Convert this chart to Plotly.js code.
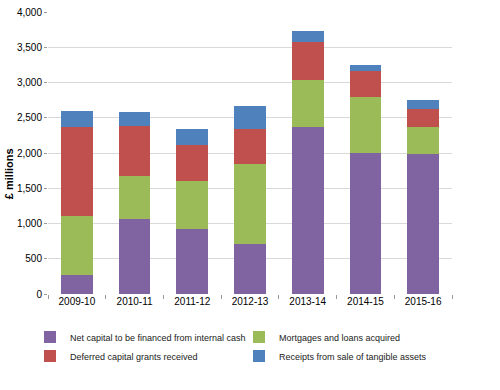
<!DOCTYPE html>
<html>
<head>
<meta charset="utf-8">
<script src="https://cdn.plot.ly/plotly-3.0.1.min.js"></script>
<style>html,body{margin:0;padding:0;background:#fff;}#chart{width:500px;height:390px;}</style>
</head>
<body>
<div id="chart"></div>
<script>
const categories = ["2009-10", "2010-11", "2011-12", "2012-13", "2013-14", "2014-15", "2015-16"];
const netCapital = [275, 1070, 925, 712, 2370, 2000, 1990];
const mortgages = [825, 610, 680, 1138, 665, 795, 380];
const deferredGrants = [1270, 700, 510, 491, 539, 368, 255];
const receiptsTangible = [226, 202, 226, 326, 156, 84, 127];
const seriesNames = [
  "Net capital to be financed from internal cash",
  "Mortgages and loans acquired",
  "Deferred capital grants received",
  "Receipts from sale of tangible assets"
];
const colors = ["#8064a2", "#9bbb59", "#c0504d", "#4f81bd"];
const legendGroups = ["legend", "legend2", "legend", "legend2"];
const yTicks = [0, 500, 1000, 1500, 2000, 2500, 3000, 3500, 4000];
const yTickText = ["0", "500", "1,000", "1,500", "2,000", "2,500", "3,000", "3,500", "4,000"];
const yTitle = "£ millions";

const seriesValues = [netCapital, mortgages, deferredGrants, receiptsTangible];
const traces = seriesValues.map((vals, i) => ({
  type: "bar",
  x: categories,
  y: vals,
  name: seriesNames[i],
  legend: legendGroups[i],
  marker: {color: colors[i], line: {width: 0}},
  hoverinfo: "x+y+name"
}));

const legendStyle = {
  orientation: "v",
  xref: "container",
  yref: "container",
  xanchor: "left",
  yanchor: "top",
  y: 0.173,
  itemwidth: 30,
  font: {size: 9, color: "#222222"},
  bgcolor: "rgba(0,0,0,0)",
  traceorder: "normal"
};

const layout = {
  width: 500,
  height: 390,
  barmode: "stack",
  bargap: 0.45,
  paper_bgcolor: "#ffffff",
  plot_bgcolor: "#ffffff",
  font: {family: "Liberation Sans, Arial, sans-serif", size: 10, color: "#000000"},
  margin: {l: 48, r: 48, t: 12, b: 96, autoexpand: false},
  showlegend: true,
  legend: Object.assign({}, legendStyle, {x: 0.06}),
  legend2: Object.assign({}, legendStyle, {x: 0.478}),
  xaxis: {
    type: "category",
    showgrid: false,
    showline: false,
    zeroline: false,
    ticks: "outside",
    tickson: "boundaries",
    ticklen: 4,
    tickcolor: "#999999",
    tickfont: {size: 10}
  },
  yaxis: {
    range: [0, 4000],
    tickvals: yTicks,
    ticktext: yTickText,
    showgrid: true,
    gridcolor: "#d9d9d9",
    gridwidth: 1,
    zeroline: false,
    showline: false,
    ticks: "outside",
    ticklen: 3,
    tickcolor: "#999999",
    tickfont: {size: 10}
  },
  annotations: [{
    text: "<b>" + yTitle + "</b>",
    xref: "paper", yref: "paper",
    x: -0.0965, y: 0.425,
    xanchor: "center", yanchor: "middle",
    textangle: -90,
    showarrow: false,
    font: {size: 11, color: "#000000"}
  }]
};

Plotly.newPlot("chart", traces, layout, {displayModeBar: false, staticPlot: true});
</script>
</body>
</html>
